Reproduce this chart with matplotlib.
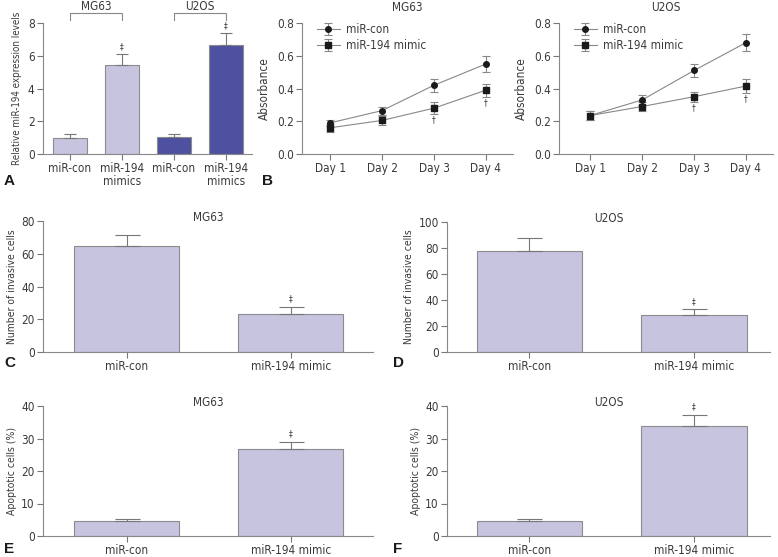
import matplotlib
matplotlib.use('Agg')
import matplotlib.pyplot as plt
from matplotlib import font_manager
import numpy as np

# pick a narrow face if one is installed, else a compact sans
names = set(f.name for f in font_manager.fontManager.ttflist)
if 'Liberation Sans Narrow' in names:
    base, stretch = 'Liberation Sans Narrow', 'normal'
else:
    base, stretch = 'DejaVu Sans', 'condensed'

plt.rcParams['font.family'] = [base, 'DejaVu Sans']
plt.rcParams['font.stretch'] = stretch
plt.rcParams['font.size'] = 8.5
plt.rcParams['text.color'] = '#3a3a3a'
plt.rcParams['axes.labelcolor'] = '#3a3a3a'
plt.rcParams['axes.labelsize'] = 7.5
plt.rcParams['xtick.color'] = '#777777'
plt.rcParams['ytick.color'] = '#777777'
plt.rcParams['xtick.labelcolor'] = '#3a3a3a'
plt.rcParams['ytick.labelcolor'] = '#3a3a3a'

# ---- data ----
a_labels = ['miR-con', 'miR-194\nmimics', 'miR-con', 'miR-194\nmimics']
a_means = [1.0, 5.45, 1.05, 6.65]
a_errs = [0.2, 0.65, 0.15, 0.75]

days = ['Day 1', 'Day 2', 'Day 3', 'Day 4']
mg_con = [0.19, 0.265, 0.42, 0.55]
mg_con_err = [0.02, 0.025, 0.04, 0.05]
mg_mim = [0.16, 0.205, 0.28, 0.39]
mg_mim_err = [0.025, 0.03, 0.035, 0.04]
u2_con = [0.235, 0.33, 0.51, 0.68]
u2_con_err = [0.025, 0.03, 0.04, 0.05]
u2_mim = [0.235, 0.29, 0.35, 0.415]
u2_mim_err = [0.025, 0.03, 0.03, 0.045]

groups = ['miR-con', 'miR-194 mimic']
inv_mg = [65, 23]
inv_mg_err = [6.5, 4.5]
inv_u2 = [78, 28.5]
inv_u2_err = [9.5, 4.5]
apo_mg = [4.5, 26.8]
apo_mg_err = [0.7, 2.2]
apo_u2 = [4.6, 34.0]
apo_u2_err = [0.6, 3.3]

light = '#c6c4df'
dark = '#4e51a0'
edge = '#8c8c8c'
W, H = 778, 557

fig = plt.figure(figsize=(W / 100, H / 100), dpi=100)


def box(left, top, right, bottom):
    return fig.add_axes([left / W, 1 - bottom / H, (right - left) / W, (bottom - top) / H])


def style(ax):
    for s in ['top', 'right']:
        ax.spines[s].set_visible(False)
    for s in ['left', 'bottom']:
        ax.spines[s].set_color('#888888')
        ax.spines[s].set_linewidth(0.8)
    ax.tick_params(length=4, width=0.8, pad=2)


def bar_panel(ax, means, errs, ylim, yticks, ylabel, title, xlim, cap):
    x = np.arange(len(means))
    ax.bar(x, means, width=0.64, color=light, edgecolor=edge, linewidth=0.8)
    ax.errorbar(x, means, yerr=[np.zeros(len(errs)), errs], fmt='none',
                ecolor='#777777', elinewidth=0.8, capsize=cap, capthick=0.8)
    ax.text(1, means[1] + errs[1] + ylim[1] * 0.06, '‡', ha='center', va='center', fontsize=6)
    ax.set_xticks(x)
    ax.set_xticklabels(groups)
    ax.set_xlim(*xlim)
    ax.set_ylim(*ylim)
    ax.set_yticks(yticks)
    ax.set_ylabel(ylabel, labelpad=3)
    ax.text(0.5, 1.03, title, transform=ax.transAxes, ha='center', va='center')
    style(ax)


# ---- A ----
axA = box(43, 23, 252, 154)
xa = np.arange(4)
axA.bar(xa, a_means, width=0.67, color=[light, light, dark, dark], edgecolor=edge, linewidth=0.8)
axA.errorbar(xa, a_means, yerr=[np.zeros(4), a_errs], fmt='none', ecolor='#777777',
             elinewidth=0.8, capsize=4.5, capthick=0.8)
for i in [1, 3]:
    axA.text(i, a_means[i] + a_errs[i] + 0.45, '‡', ha='center', va='center', fontsize=6)
axA.set_xlim(-0.52, 3.5)
axA.set_ylim(0, 8)
axA.set_yticks([0, 2, 4, 6, 8])
axA.set_xticks(xa)
axA.set_xticklabels(a_labels, linespacing=1.0)
axA.set_ylabel('Relative miR-194 expression levels', labelpad=4, fontsize=7)
for (i0, i1), name in zip([(0, 1), (2, 3)], ['MG63', 'U2OS']):
    axA.plot([i0, i0, i1, i1], [8.2, 8.6, 8.6, 8.2], color='#888888', lw=0.8, clip_on=False)
    axA.text((i0 + i1) / 2, 9.0, name, ha='center', va='center')
style(axA)


# ---- B ----
def line_panel(ax, con, con_err, mim, mim_err, title, xlim):
    x = np.arange(4)
    ax.errorbar(x, con, yerr=con_err, color='#888888', lw=0.8, ecolor='#888888',
                elinewidth=0.8, capsize=3, capthick=0.8, marker='o', ms=4,
                mfc='#1a1a1a', mec='#1a1a1a', label='miR-con')
    ax.errorbar(x, mim, yerr=mim_err, color='#888888', lw=0.8, ecolor='#888888',
                elinewidth=0.8, capsize=3, capthick=0.8, marker='s', ms=4,
                mfc='#1a1a1a', mec='#1a1a1a', label='miR-194 mimic')
    for i in [2, 3]:
        ax.text(i, mim[i] - mim_err[i] - 0.035, '†', ha='center', va='center', fontsize=6)
    ax.set_xlim(*xlim)
    ax.set_ylim(0, 0.8)
    ax.set_yticks([0.0, 0.2, 0.4, 0.6, 0.8])
    ax.set_yticklabels(['0.0', '0.2', '0.4', '0.6', '0.8'])
    ax.set_xticks(x)
    ax.set_xticklabels(days)
    ax.set_ylabel('Absorbance', labelpad=4, fontsize=8.5)
    ax.text(0.5, 1.12, title, transform=ax.transAxes, ha='center', va='center')
    ax.legend(loc='upper left', frameon=False, handlelength=2.0, handletextpad=0.5,
              bbox_to_anchor=(0.03, 1.06), borderaxespad=0.3, labelspacing=0.25)
    style(ax)


axB1 = box(302, 23, 513, 154)
line_panel(axB1, mg_con, mg_con_err, mg_mim, mg_mim_err, 'MG63', (-0.54, 3.52))
axB2 = box(559, 23, 773, 154)
line_panel(axB2, u2_con, u2_con_err, u2_mim, u2_mim_err, 'U2OS', (-0.6, 3.52))

# ---- C, D ----
axC = box(43, 221, 373, 352)
bar_panel(axC, inv_mg, inv_mg_err, (0, 80), [0, 20, 40, 60, 80],
          'Number of invasive cells', 'MG63', (-0.51, 1.5), 9)
axD = box(447, 222, 770, 352)
bar_panel(axD, inv_u2, inv_u2_err, (0, 100), [0, 20, 40, 60, 80, 100],
          'Number of invasive cells', 'U2OS', (-0.5, 1.46), 9)

# ---- E, F ----
axE = box(43, 406, 373, 536)
bar_panel(axE, apo_mg, apo_mg_err, (0, 40), [0, 10, 20, 30, 40],
          'Apoptotic cells (%)', 'MG63', (-0.51, 1.5), 9)
axF = box(447, 406, 770, 536)
bar_panel(axF, apo_u2, apo_u2_err, (0, 40), [0, 10, 20, 30, 40],
          'Apoptotic cells (%)', 'U2OS', (-0.5, 1.46), 9)

# panel letters
for letter, (px, py) in zip('ABCDEF', [(4, 181), (262, 181), (4, 363), (393, 363), (4, 549), (393, 549)]):
    fig.text(px / W, 1 - py / H, letter, fontsize=11, fontweight='bold', color='#1a1a1a',
             ha='left', va='center', family=['Liberation Sans', 'DejaVu Sans'], stretch='normal')

fig.savefig('out.png', dpi=100)
